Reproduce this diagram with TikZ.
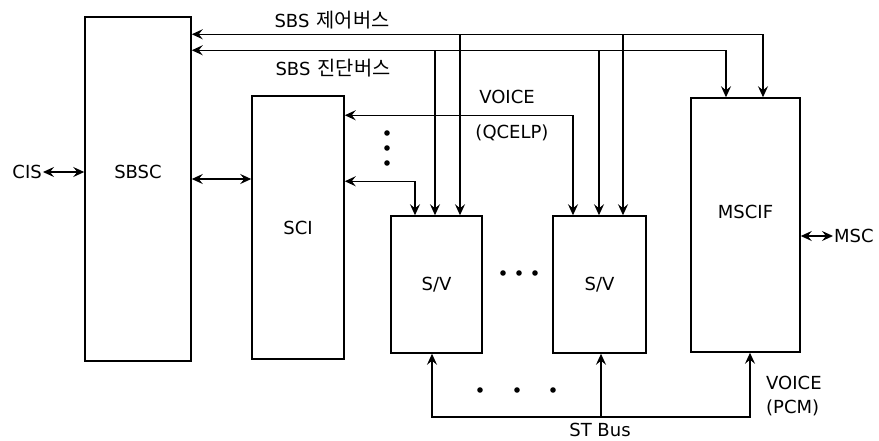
\documentclass[tikz,border=0pt]{standalone}
\usepackage{fontspec}
\setmainfont{DejaVu Sans}
\newfontfamily\krfont{Noto Sans CJK KR}[Scale=1.1]
\usetikzlibrary{arrows.meta, positioning, calc}

\begin{document}
\begin{tikzpicture}[
    x=1pt, y=-1pt,
    every node/.style={font=\fontsize{18}{21}\selectfont, inner sep=1pt},
    unit/.style={rectangle, draw=black, line width=1.5pt, inner sep=0pt},
    arr/.style={-{Stealth[length=11pt, width=10pt, inset=4pt]}, line width=1.4pt},
    biarr/.style={{Stealth[length=11pt, width=10pt, inset=4pt]}-{Stealth[length=11pt, width=10pt, inset=4pt]}, line width=1.4pt},
]
\useasboundingbox (0,0) rectangle (879,440);

\node[unit, minimum width=106pt, minimum height=344pt, label={[yshift=17pt]center:SBSC}] (sbsc) at (138,189) {};
\node[unit, minimum width=92pt, minimum height=263pt] (sci) at (298,227.5) {SCI};
\node[unit, minimum width=91pt, minimum height=137pt] (sv1) at (436.5,284.5) {S/V};
\node[unit, minimum width=93pt, minimum height=137pt] (sv2) at (599.5,284.5) {S/V};
\node[unit, minimum width=109pt, minimum height=254pt, label={[yshift=13pt]center:MSCIF}] (mscif) at (745.5,225) {};

\node[anchor=east] (cis) at (43,172) {CIS};
\node[anchor=west] (msc) at (833,236) {MSC};

\node (ctrl) at (332,20) {SBS\hspace{0.4em}{\krfont 제어버스}};
\node (diag) at (333,68) {SBS\hspace{0.4em}{\krfont 진단버스}};
\node (qvoice) at (507,97) {VOICE};
\node (qcelp) at (512,133) {(QCELP)};
\node[anchor=west] (pvoice) at (765,383) {VOICE};
\node[anchor=west] (pcm) at (765,408) {(PCM)};
\node (stbus) at (600,430) {ST Bus};

\coordinate (cb1) at (460,35);
\coordinate (cb2) at (623,35);
\coordinate (db1) at (435,51);
\coordinate (db2) at (599,51);
\coordinate (ss) at (220,179);
\coordinate (st1) at (432,417);
\coordinate (st2) at (601,417);
\coordinate (st3) at (750,417);

\draw[biarr] ([yshift=-18pt]sbsc.north east) -| ([xshift=17.5pt]mscif.north);
\draw[biarr] ([yshift=-34pt]sbsc.north east) -| ([xshift=-19.5pt]mscif.north);
\draw[arr] (cb1) -- (cb1 |- sv1.north);
\draw[arr] (cb2) -- (cb2 |- sv2.north);
\draw[arr] (db1) -- (db1 |- sv1.north);
\draw[arr] (db2) -- (db2 |- sv2.north);

\draw[biarr] ([yshift=-20pt]sci.north east) -| ([xshift=-26.5pt]sv2.north);
\draw[biarr] ([yshift=-86pt]sci.north east) -| ([xshift=-21.5pt]sv1.north);
\foreach \y in {133,148,163}
    \fill (387,\y) circle (2.8pt);

\draw[biarr] (ss -| sbsc.east) -- (ss -| sci.west);
\draw[biarr] (cis.east) -- (cis.east -| sbsc.west);
\draw[biarr] (msc.west) -- (msc.west -| mscif.east);

\foreach \x in {503,519,535}
    \fill (\x,273) circle (2.8pt);

\draw[biarr] (st1 |- sv1.south) |- (st3) -- (st3 |- mscif.south);
\draw[arr] (st2) -- (st2 |- sv2.south);
\foreach \x in {480,517,553}
    \fill (\x,390) circle (2.8pt);

\end{tikzpicture}
\end{document}
